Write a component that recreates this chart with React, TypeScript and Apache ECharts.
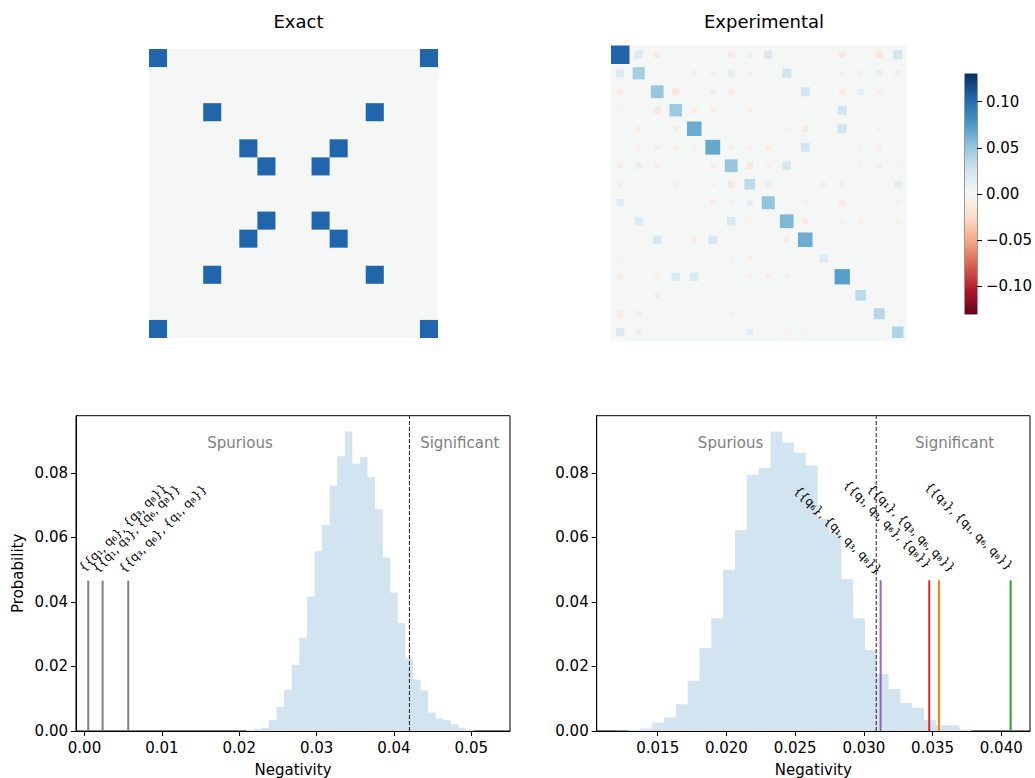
import React, { useEffect, useRef } from 'react';
import * as echarts from 'echarts';

const FONT = 'DejaVu Sans';

// ---------------- data ----------------
const matrixSize = 16;
const exactCells: [number, number][] = [
  [0, 0], [0, 15], [3, 3], [3, 12], [5, 5], [5, 10], [6, 6], [6, 9],
  [9, 6], [9, 9], [10, 5], [10, 10], [12, 3], [12, 12], [15, 0], [15, 15],
];
const exactValue = 0.125;

const experimentalRows: number[][] = [
  [0.105, 0.02, -0.012, -0.006, -0.006, 0.005, -0.012, 0.01, 0.02, 0.004, -0.004, 0.006, -0.014, -0.005, -0.016, 0.025],
  [0.02, 0.045, -0.004, -0.002, -0.01, -0.009, 0.014, 0.007, 0.002, 0.025, 0.004, 0.003, 0.006, -0.008, 0.012, 0.01],
  [-0.011, -0.004, 0.05, -0.016, 0.005, 0.01, -0.011, -0.003, 0.002, -0.003, 0.025, 0.002, -0.011, 0.012, -0.008, 0.004],
  [-0.006, -0.002, -0.014, 0.048, -0.01, -0.008, 0.005, -0.009, 0.003, 0.001, 0.003, 0.005, 0.025, 0.001, 0.001, 0.002],
  [-0.006, -0.009, 0.006, -0.009, 0.065, 0.006, -0.003, -0.006, 0.004, 0.006, -0.012, 0.006, 0.025, 0.004, -0.007, -0.001],
  [0.004, -0.007, 0.009, -0.007, 0.006, 0.067, -0.008, -0.007, -0.01, 0.002, 0.024, 0.004, -0.002, 0.005, -0.007, -0.001],
  [-0.01, 0.012, -0.01, 0.004, -0.002, -0.008, 0.05, -0.014, -0.007, 0.022, -0.003, 0.005, 0.004, -0.006, 0.008, -0.006],
  [0.008, 0.006, -0.004, -0.009, -0.006, -0.007, -0.014, 0.035, 0.012, -0.006, 0.005, -0.009, -0.01, -0.006, -0.004, 0.014],
  [0.016, 0.002, 0.002, 0.003, 0.004, -0.01, -0.007, 0.012, 0.052, 0.004, 0.006, -0.006, -0.012, 0.004, 0.003, -0.007],
  [0.003, 0.02, -0.004, 0.001, 0.005, 0.002, 0.022, -0.006, 0.003, 0.058, -0.01, 0.004, 0.007, -0.008, -0.004, -0.007],
  [-0.004, 0.004, 0.022, 0.002, -0.01, 0.022, -0.002, 0.005, 0.005, -0.01, 0.065, 0.005, -0.006, 0.005, -0.005, 0.006],
  [0.005, 0.002, 0.002, 0.004, 0.005, 0.004, 0.005, -0.007, -0.006, 0.004, 0.004, 0.02, 0.004, 0.004, -0.005, 0.003],
  [-0.01, 0.005, -0.008, 0.02, 0.02, -0.002, 0.004, -0.007, -0.01, 0.007, -0.005, 0.004, 0.072, 0.004, 0.005, 0.003],
  [-0.004, -0.006, 0.01, 0.001, 0.003, 0.004, -0.006, -0.005, 0.003, -0.006, 0.004, 0.003, 0.004, 0.035, -0.002, -0.002],
  [-0.012, 0.01, -0.006, 0.001, -0.006, -0.006, 0.008, -0.003, 0.002, -0.003, -0.005, -0.005, 0.004, -0.003, 0.037, -0.006],
  [0.02, 0.01, 0.004, 0.002, 0.001, 0.001, -0.005, 0.014, -0.006, -0.006, 0.005, 0.003, 0.003, -0.003, -0.006, 0.04],
];

const colorbarRange = 0.13;
const colorbarTicks = [-0.1, -0.05, 0, 0.05, 0.1];

const yTicks = [0, 0.02, 0.04, 0.06, 0.08];
const yMax = 0.0977;

const leftBinStart = 0.0209;
const leftBinWidth = 0.00098;
const leftProbabilities = [
  0.0003, 0.0006, 0.001, 0.0034, 0.0075, 0.0127, 0.0205, 0.0289, 0.0417, 0.0557,
  0.0638, 0.0761, 0.0851, 0.0928, 0.0828, 0.0848, 0.0787, 0.0687, 0.0538, 0.0429,
  0.0334, 0.0224, 0.0159, 0.0126, 0.0057, 0.0039, 0.0033, 0.0021, 0.001, 0.0005,
];
const leftThreshold = 0.042;
const leftXTicks = [0, 0.01, 0.02, 0.03, 0.04, 0.05];
const leftXMin = -0.0011;
const leftXMax = 0.055;
const leftPartitionLabels = [
  '{{q\u2081, q\u2086}, {q\u2083, q\u2088}}',
  '{{q\u2081, q\u2083}, {q\u2086, q\u2088}}',
  '{{q\u2083, q\u2086}, {q\u2081, q\u2088}}',
];
const leftPartitionValues = [0.00048, 0.00234, 0.00565];
const leftPartitionHeights = [0.0466, 0.0466, 0.0466];

const rightBinStart = 0.01202;
const rightBinWidth = 0.00086;
const rightProbabilities = [
  0.0001, 0.0003, 0.0008, 0.0026, 0.0042, 0.0083, 0.0156, 0.0257, 0.0349, 0.05,
  0.0623, 0.0794, 0.0815, 0.0928, 0.0894, 0.0862, 0.0823, 0.0657, 0.0612, 0.0471,
  0.0349, 0.0251, 0.0177, 0.013, 0.0087, 0.0072, 0.0033, 0.0018, 0.0018, 0.0005,
];
const rightThreshold = 0.0309;
const rightXTicks = [0.015, 0.02, 0.025, 0.03, 0.035, 0.04];
const rightXMin = 0.01056;
const rightXMax = 0.04209;
const rightPartitionLabels = [
  '{{q\u2086}, {q\u2081, q\u2083, q\u2088}}',
  '{{q\u2081, q\u2083, q\u2086}, {q\u2088}}',
  '{{q\u2081}, {q\u2083, q\u2086, q\u2088}}',
  '{{q\u2083}, {q\u2081, q\u2086, q\u2088}}',
];
const rightPartitionValues = [0.03122, 0.03476, 0.03547, 0.04068];
const rightPartitionHeights = [0.0467, 0.0467, 0.0467, 0.0467];

const regionLabels = ['Spurious', 'Significant'];
const leftRegionX = [0.0201, 0.0485];
const rightRegionX = [0.0203, 0.0366];
const regionY = 0.0892;

// ---------------- styles ----------------
const RDBU = ['#67001f', '#b2182b', '#d6604d', '#f4a582', '#fddbc7', '#f7f7f7', '#d1e5f0', '#92c5de', '#4393c3', '#2166ac', '#053061'];
const leftLineColors = ['#808080', '#808080', '#808080'];
const rightLineColors = ['#9467bd', '#d62728', '#ff7f0e', '#2ca02c'];
const leftLabelOffsets = [[-3, -7], [-4, -6], [-3, -6]];
const rightLabelOffsets = [[-5, -4], [-4, -10], [10, -6], [-4, -8]];
const histColor = '#d2e4f0';

function hexToRgb(h: string) {
  const n = parseInt(h.slice(1), 16);
  return [(n >> 16) & 255, (n >> 8) & 255, n & 255];
}
function rdbu(t: number) {
  const tt = Math.max(0, Math.min(1, t));
  const p = tt * 10;
  const i = Math.min(9, Math.floor(p));
  const f = p - i;
  const a = hexToRgb(RDBU[i]);
  const b = hexToRgb(RDBU[i + 1]);
  const c = a.map((v, k) => Math.round(v + (b[k] - v) * f));
  return `rgb(${c[0]},${c[1]},${c[2]})`;
}

const tickFont = { color: '#000', fontSize: 15, fontFamily: FONT };

function hiddenAxis(gridIndex: number, inverse = false) {
  return { type: 'value', gridIndex, min: 0, max: matrixSize, show: false, inverse };
}

function hintonSeries(idx: number, data: number[][], norm: number, maxAbs: number) {
  return {
    type: 'custom',
    xAxisIndex: idx,
    yAxisIndex: idx,
    silent: true,
    data,
    renderItem: (_p: any, api: any) => {
      const c = api.value(0);
      const r = api.value(1);
      const v = api.value(2);
      const center = api.coord([c + 0.5, r + 0.5]);
      const size = api.size([1, 1]);
      const s = Math.abs(size[0]) * Math.sqrt(Math.abs(v) / maxAbs);
      return {
        type: 'rect',
        shape: { x: center[0] - s / 2, y: center[1] - s / 2, width: s, height: s },
        style: { fill: rdbu(0.5 + v / (2 * norm)) },
      };
    },
  };
}

function histSeries(idx: number, start: number, width: number, probs: number[]) {
  return {
    type: 'custom',
    xAxisIndex: idx,
    yAxisIndex: idx,
    silent: true,
    z: 1,
    data: [[start + width, 0]],
    renderItem: (_p: any, api: any) => {
      const pts: number[][] = [api.coord([start, 0])];
      probs.forEach((h, i) => {
        pts.push(api.coord([start + i * width, h]));
        pts.push(api.coord([start + (i + 1) * width, h]));
      });
      pts.push(api.coord([start + probs.length * width, 0]));
      return { type: 'polygon', shape: { points: pts }, style: { fill: histColor } };
    },
  };
}

function vlineSeries(idx: number, xs: number[], tops: number[], colors: string[]) {
  return {
    type: 'custom',
    xAxisIndex: idx,
    yAxisIndex: idx,
    silent: true,
    z: 3,
    data: xs.map((x, i) => [x, tops[i]]),
    renderItem: (p: any, api: any) => {
      const a = api.coord([api.value(0), 0]);
      const b = api.coord([api.value(0), api.value(1)]);
      return {
        type: 'line',
        shape: { x1: a[0], y1: a[1], x2: b[0], y2: b[1] },
        style: { stroke: colors[p.dataIndex], lineWidth: 2 },
      };
    },
  };
}

function thresholdSeries(idx: number, x: number) {
  return {
    type: 'custom',
    xAxisIndex: idx,
    yAxisIndex: idx,
    silent: true,
    z: 4,
    data: [[x, 0]],
    renderItem: (_p: any, api: any) => {
      const a = api.coord([api.value(0), 0]);
      const b = api.coord([api.value(0), yMax]);
      return {
        type: 'line',
        shape: { x1: a[0], y1: a[1], x2: b[0], y2: b[1] },
        style: { stroke: '#222', lineWidth: 1, lineDash: [4, 2] },
      };
    },
  };
}

function regionSeries(idx: number, xs: number[]) {
  return {
    type: 'custom',
    xAxisIndex: idx,
    yAxisIndex: idx,
    silent: true,
    z: 5,
    data: xs.map((x) => [x, regionY]),
    renderItem: (p: any, api: any) => {
      const a = api.coord([api.value(0), api.value(1)]);
      return {
        type: 'text',
        x: a[0],
        y: a[1],
        style: {
          text: regionLabels[p.dataIndex],
          fill: '#808080',
          fontSize: 15,
          fontFamily: FONT,
          align: 'center',
          verticalAlign: 'middle',
        },
      };
    },
  };
}

function partitionLabelSeries(
  idx: number,
  xs: number[],
  tops: number[],
  labels: string[],
  offsets: number[][],
  rotation: number,
  align: string,
) {
  return {
    type: 'custom',
    xAxisIndex: idx,
    yAxisIndex: idx,
    silent: true,
    z: 6,
    data: xs.map((x, i) => [x, tops[i]]),
    renderItem: (p: any, api: any) => {
      const a = api.coord([api.value(0), api.value(1)]);
      const o = offsets[p.dataIndex];
      return {
        type: 'text',
        x: a[0] + o[0],
        y: a[1] + o[1],
        rotation,
        style: {
          text: labels[p.dataIndex],
          fill: '#000',
          fontSize: 12,
          fontFamily: FONT,
          align,
          verticalAlign: 'bottom',
        },
      };
    },
  };
}

function histXAxis(idx: number, min: number, max: number, ticks: number[], digits: number) {
  return {
    type: 'value',
    gridIndex: idx,
    min,
    max,
    axisLine: { show: true, onZero: false, lineStyle: { color: '#000', width: 1 } },
    axisTick: { show: true, length: 5, customValues: ticks, lineStyle: { color: '#000', width: 1 } },
    axisLabel: { ...tickFont, margin: 9, customValues: ticks, formatter: (v: number) => v.toFixed(digits) },
    splitLine: { show: false },
    name: 'Negativity',
    nameLocation: 'middle',
    nameGap: 31,
    nameTextStyle: { ...tickFont },
  };
}

function histYAxis(idx: number, withName: boolean) {
  return {
    type: 'value',
    gridIndex: idx,
    min: 0,
    max: yMax,
    axisLine: { show: true, onZero: false, lineStyle: { color: '#000', width: 1 } },
    axisTick: { show: true, length: 5, customValues: yTicks, lineStyle: { color: '#000', width: 1 } },
    axisLabel: { ...tickFont, margin: 8, customValues: yTicks, formatter: (v: number) => v.toFixed(2) },
    splitLine: { show: false },
    name: withName ? 'Probability' : '',
    nameLocation: 'middle',
    nameGap: 51,
    nameTextStyle: { ...tickFont },
  };
}

function buildOption() {
  const exactData = exactCells.map(([r, c]) => [c, r, exactValue]);
  const expData: number[][] = [];
  experimentalRows.forEach((row, r) => row.forEach((v, c) => expData.push([c, r, v])));
  const expMax = Math.max(...expData.map((d) => Math.abs(d[2])));

  const n = RDBU.length - 1;
  const gradStops = RDBU.slice()
    .reverse()
    .map((col, i) => ({ offset: i / n, color: col }));

  const titleStyle = { fontSize: 18, fontWeight: 'normal', color: '#000', fontFamily: FONT };

  return {
    animation: false,
    textStyle: { fontFamily: FONT },
    title: [
      { text: 'Exact', left: 293.5, top: 7, textAlign: 'center', textStyle: titleStyle },
      { text: 'Experimental', left: 759, top: 7, textAlign: 'center', textStyle: titleStyle },
    ],
    grid: [
      { left: 149, top: 49, width: 289, height: 289, show: true, backgroundColor: '#f5f6f6', borderWidth: 0 },
      { left: 611, top: 45.5, width: 296, height: 296, show: true, backgroundColor: '#f5f6f6', borderWidth: 0 },
      { left: 965, top: 74, width: 12, height: 240, show: true, borderColor: '#333', borderWidth: 1 },
      { left: 76, top: 415.7, width: 434, height: 316, show: true, borderColor: '#000', borderWidth: 1 },
      { left: 596.7, top: 415.7, width: 433.3, height: 316, show: true, borderColor: '#000', borderWidth: 1 },
    ],
    xAxis: [
      hiddenAxis(0),
      hiddenAxis(1),
      { type: 'value', gridIndex: 2, min: 0, max: 1, show: false },
      histXAxis(3, leftXMin, leftXMax, leftXTicks, 2),
      histXAxis(4, rightXMin, rightXMax, rightXTicks, 3),
    ],
    yAxis: [
      hiddenAxis(0, true),
      hiddenAxis(1, true),
      {
        type: 'value',
        gridIndex: 2,
        position: 'right',
        min: -colorbarRange,
        max: colorbarRange,
        axisLine: { show: false, onZero: false },
        axisTick: { show: true, length: 5, customValues: colorbarTicks, lineStyle: { color: '#000' } },
        axisLabel: {
          ...tickFont,
          margin: 9,
          customValues: colorbarTicks,
          formatter: (v: number) => v.toFixed(2).replace('-', '\u2212'),
        },
        splitLine: { show: false },
      },
      histYAxis(3, true),
      histYAxis(4, false),
    ],
    series: [
      hintonSeries(0, exactData, 0.156, exactValue),
      hintonSeries(1, expData, colorbarRange, expMax),
      {
        type: 'custom',
        xAxisIndex: 2,
        yAxisIndex: 2,
        silent: true,
        z: 0,
        data: [[0.5, 0]],
        renderItem: (_p: any, api: any) => {
          const a = api.coord([0, colorbarRange]);
          const b = api.coord([1, -colorbarRange]);
          return {
            type: 'rect',
            shape: { x: a[0], y: a[1], width: b[0] - a[0], height: b[1] - a[1] },
            style: { fill: new echarts.graphic.LinearGradient(0, 0, 0, 1, gradStops) },
          };
        },
      },
      histSeries(3, leftBinStart, leftBinWidth, leftProbabilities),
      histSeries(4, rightBinStart, rightBinWidth, rightProbabilities),
      vlineSeries(3, leftPartitionValues, leftPartitionHeights, leftLineColors),
      vlineSeries(4, rightPartitionValues, rightPartitionHeights, rightLineColors),
      thresholdSeries(3, leftThreshold),
      thresholdSeries(4, rightThreshold),
      regionSeries(3, leftRegionX),
      regionSeries(4, rightRegionX),
      partitionLabelSeries(3, leftPartitionValues, leftPartitionHeights, leftPartitionLabels, leftLabelOffsets, Math.PI / 4, 'left'),
      partitionLabelSeries(4, rightPartitionValues, rightPartitionHeights, rightPartitionLabels, rightLabelOffsets, -Math.PI / 4, 'right'),
    ],
  };
}

export default function App() {
  const ref = useRef<HTMLDivElement>(null);
  useEffect(() => {
    if (!ref.current) return;
    const chart = echarts.init(ref.current, undefined, { renderer: 'svg' });
    chart.setOption(buildOption() as any);
    return () => chart.dispose();
  }, []);
  return (
    <div
      ref={ref}
      style={{ position: 'fixed', left: 0, top: 0, width: 1035, height: 778, background: '#fff' }}
    />
  );
}
